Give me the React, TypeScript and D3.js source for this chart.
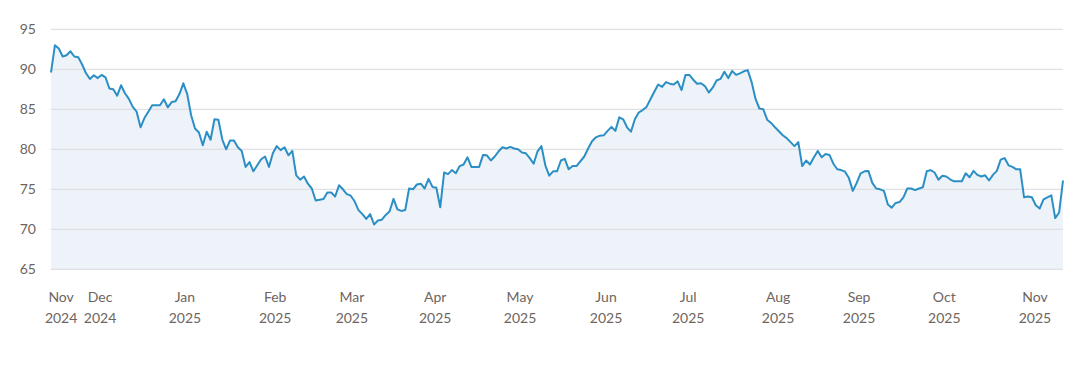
import React, { useEffect, useRef } from "react";
import * as d3 from "d3";

// One value per trading day, Nov 2024 → Nov 2025
const price: number[] = [
  89.6, 93.0, 92.6, 91.6, 91.75, 92.25, 91.6, 91.5, 90.6, 89.5,
  88.8, 89.25, 88.9, 89.3, 89.0, 87.6, 87.5, 86.7, 88.0, 87.0,
  86.3, 85.3, 84.7, 82.75, 83.9, 84.7, 85.5, 85.5, 85.5, 86.25,
  85.25, 85.9, 86.0, 86.9, 88.25, 86.9, 84.25, 82.6, 82.1, 80.5,
  82.2, 81.2, 83.75, 83.7, 81.25, 80.0, 81.1, 81.1, 80.25, 79.8,
  77.8, 78.4, 77.25, 78.0, 78.75, 79.1, 77.8, 79.5, 80.4, 79.9,
  80.25, 79.25, 79.8, 76.75, 76.2, 76.6, 75.7, 75.1, 73.6, 73.7,
  73.8, 74.6, 74.6, 74.1, 75.5, 75.0, 74.4, 74.2, 73.5, 72.4,
  71.9, 71.3, 71.9, 70.6, 71.1, 71.2, 71.8, 72.25, 73.8, 72.5,
  72.3, 72.4, 75.1, 75.0, 75.6, 75.7, 75.1, 76.3, 75.3, 75.2,
  72.75, 77.1, 76.9, 77.4, 77.0, 77.9, 78.1, 79.0, 77.8, 77.8,
  77.8, 79.3, 79.25, 78.6, 79.1, 79.75, 80.25, 80.1, 80.3, 80.1,
  80.0, 79.6, 79.5, 78.9, 78.2, 79.75, 80.4, 78.0, 76.7, 77.25,
  77.25, 78.6, 78.8, 77.5, 77.9, 77.9, 78.5, 79.1, 80.1, 81.0,
  81.5, 81.7, 81.75, 82.3, 82.8, 82.3, 84.0, 83.75, 82.75, 82.2,
  83.75, 84.6, 84.9, 85.3, 86.25, 87.2, 88.1, 87.8, 88.4, 88.2,
  88.1, 88.5, 87.4, 89.3, 89.3, 88.7, 88.2, 88.25, 87.9, 87.1,
  87.7, 88.6, 88.8, 89.7, 88.9, 89.8, 89.3, 89.5, 89.75, 89.9,
  88.4, 86.3, 85.1, 85.0, 83.7, 83.3, 82.75, 82.25, 81.75, 81.4,
  80.9, 80.4, 80.9, 77.9, 78.6, 78.1, 79.0, 79.8, 79.0, 79.4,
  79.3, 78.2, 77.5, 77.4, 77.2, 76.4, 74.8, 75.8, 77.0, 77.25,
  77.3, 75.8, 75.1, 75.0, 74.8, 73.1, 72.7, 73.3, 73.4, 74.0,
  75.1, 75.1, 74.9, 75.1, 75.25, 77.25, 77.4, 77.1, 76.2, 76.7,
  76.6, 76.25, 76.0, 76.0, 76.0, 77.0, 76.5, 77.3, 76.8, 76.6,
  76.75, 76.1, 76.8, 77.3, 78.7, 78.9, 78.0, 77.8, 77.5, 77.5,
  74.0, 74.1, 74.0, 73.0, 72.6, 73.75, 74.0, 74.25, 71.4, 72.1,
  76.1,
];

const monthLabels: string[] = ["Nov", "Dec", "Jan", "Feb", "Mar", "Apr", "May", "Jun", "Jul", "Aug", "Sep", "Oct", "Nov"];
const yearLabels: string[] = ["2024", "2024", "2025", "2025", "2025", "2025", "2025", "2025", "2025", "2025", "2025", "2025", "2025"];
const tickDays: number[] = [2.6, 12.6, 34.4, 57.6, 77.3, 98.7, 120.5, 142.6, 163.7, 186.8, 207.6, 229.5, 252.8];
const yTicks: number[] = [65, 70, 75, 80, 85, 90, 95];

const W = 1083;
const H = 367;
const M = { left: 51, right: 20, top: 29.3, bottom: 97.7 };

export default function App() {
  const ref = useRef<SVGSVGElement | null>(null);

  useEffect(() => {
    document.body.style.margin = "0";
    const svg = d3.select(ref.current);
    svg.selectAll("*").remove();

    const x = d3.scaleLinear().domain([0, price.length - 1]).range([M.left, W - M.right]);
    const y = d3.scaleLinear().domain([65, 95]).range([H - M.bottom, M.top]);

    const area = d3
      .area<number>()
      .x((_, i) => x(i))
      .y0(y(65))
      .y1((d) => y(d));
    const line = d3
      .line<number>()
      .x((_, i) => x(i))
      .y((d) => y(d));

    svg.append("path").datum(price).attr("d", area).attr("fill", "#eef3f9");

    svg
      .append("g")
      .selectAll("line")
      .data(yTicks)
      .join("line")
      .attr("x1", M.left)
      .attr("x2", W - M.right)
      .attr("y1", (d) => y(d))
      .attr("y2", (d) => y(d))
      .attr("stroke", "#d9dade")
      .attr("stroke-width", 1);

    svg
      .append("path")
      .datum(price)
      .attr("d", line)
      .attr("fill", "none")
      .attr("stroke", "#2b8fc5")
      .attr("stroke-width", 2)
      .attr("stroke-linejoin", "round");

    const font = "Lato, 'Open Sans', sans-serif";
    svg
      .append("g")
      .selectAll("text")
      .data(yTicks)
      .join("text")
      .attr("x", 36)
      .attr("y", (d) => y(d))
      .attr("dy", "0.35em")
      .attr("text-anchor", "end")
      .attr("font-family", font)
      .attr("font-size", 14)
      .attr("fill", "#6d6560")
      .text((d) => String(d));

    const xg = svg.append("g");
    tickDays.forEach((t, i) => {
      const tx = x(t);
      xg.append("text")
        .attr("x", tx)
        .attr("y", 302)
        .attr("text-anchor", "middle")
        .attr("font-family", font)
        .attr("font-size", 14)
        .attr("fill", "#6d6560")
        .text(monthLabels[i]);
      xg.append("text")
        .attr("x", tx)
        .attr("y", 323)
        .attr("text-anchor", "middle")
        .attr("font-family", font)
        .attr("font-size", 14)
        .attr("fill", "#6d6560")
        .text(yearLabels[i]);
    });
  }, []);

  return (
    <svg
      ref={ref}
      width={W}
      height={H}
      style={{ position: "absolute", left: 0, top: 0, background: "#fff" }}
    />
  );
}
